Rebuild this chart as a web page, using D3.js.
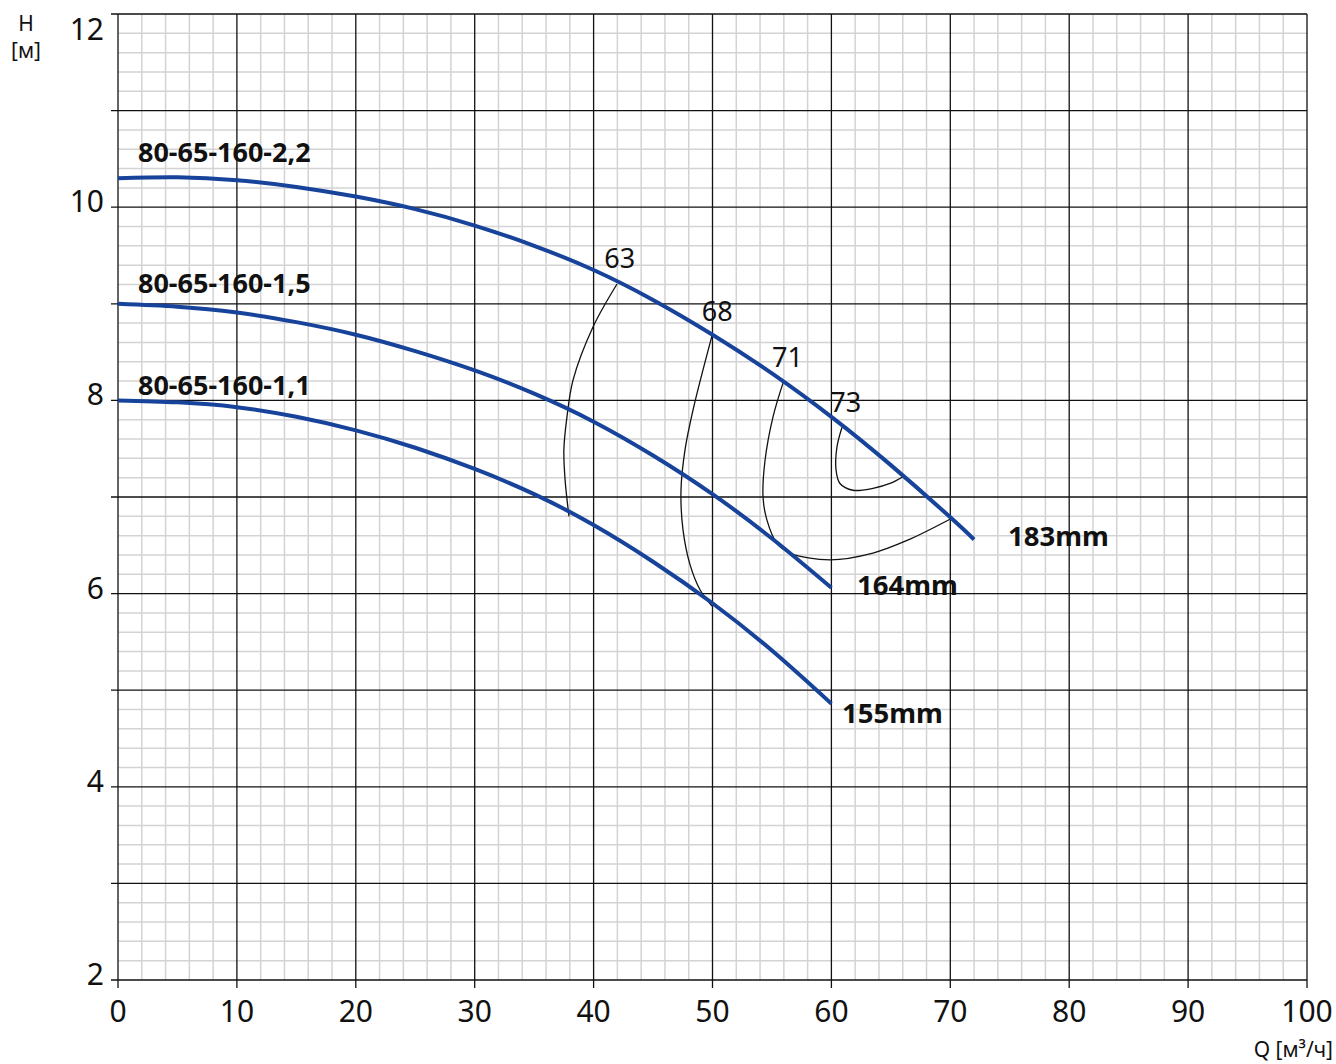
<!DOCTYPE html>
<html><head><meta charset="utf-8">
<script src="https://cdn.jsdelivr.net/npm/d3@7"></script>
<style>
html,body{margin:0;padding:0;background:#fff;}
svg{display:block;font-family:"Noto Sans","Open Sans",sans-serif;}
</style></head>
<body>
<script>
// ---- data ----
const xTicks = [0,10,20,30,40,50,60,70,80,90,100];
const yTicks = [2,4,6,8,10,12];
const curveNames = ["80-65-160-2,2","80-65-160-1,5","80-65-160-1,1"];
const impellers = ["183mm","164mm","155mm"];

const q183 = [0,5,10,15,20,25,30,35,40,45,50,55,60,65,70,72];
const h183 = [10.30,10.31,10.28,10.21,10.11,9.98,9.81,9.60,9.35,9.04,8.68,8.28,7.83,7.33,6.79,6.56];
const q164 = [0,5,10,15,20,25,30,35,40,45,50,55,60];
const h164 = [9.00,8.97,8.91,8.81,8.68,8.51,8.31,8.07,7.78,7.43,7.03,6.57,6.06];
const q155 = [0,5,10,15,20,25,30,35,40,45,50,55,60];
const h155 = [8.00,7.98,7.93,7.83,7.69,7.51,7.29,7.03,6.71,6.33,5.90,5.41,4.86];

const effLabels = ["63","68","71","73"];
const eff63Q = [41.97,39.95,38.27,37.76,37.5,37.6,37.93];
const eff63H = [9.205,8.76,8.21,7.83,7.49,7.18,6.80];
const eff68Q = [49.96,48.36,47.69,47.35,47.52,48.11,48.95,49.96];
const eff68H = [8.67,7.90,7.49,7.07,6.66,6.30,6.04,5.87];
const eff71Q = [56.01,55.09,54.42,54.25,54.58,55.42,56.52,59.88,63.5,66.36,69.97];
const eff71H = [8.21,7.83,7.38,7.00,6.76,6.52,6.42,6.35,6.42,6.55,6.77];
const eff73Q = [60.89,60.47,60.39,60.72,61.82,63.5,64.93,66.02];
const eff73H = [7.72,7.52,7.28,7.14,7.07,7.09,7.14,7.21];

// ---- layout ----
const W = 1336, H = 1064;
const x = d3.scaleLinear().domain([0,100]).range([118,1307]);
const y = d3.scaleLinear().domain([2,12]).range([980,14]);

const svg = d3.select("body").append("svg").attr("width",W).attr("height",H);

// minor grid
const g = svg.append("g");
const minorX = d3.range(2,100,2).filter(v=>v%10!==0);
const minorY = d3.range(2.2,12,0.2).filter(v=>Math.abs(v-Math.round(v))>1e-6);
g.selectAll("line.mx").data(minorX).join("line")
  .attr("x1",d=>x(d)).attr("x2",d=>x(d)).attr("y1",y(12)).attr("y2",y(2))
  .attr("stroke","#d3d3d3").attr("stroke-width",1.5);
g.selectAll("line.my").data(minorY).join("line")
  .attr("x1",x(0)).attr("x2",x(100)).attr("y1",d=>y(d)).attr("y2",d=>y(d))
  .attr("stroke","#d3d3d3").attr("stroke-width",1.5);

// major grid
const majY = d3.range(2,13,1);
g.selectAll("line.Mx").data(xTicks).join("line")
  .attr("x1",d=>x(d)).attr("x2",d=>x(d)).attr("y1",y(12)).attr("y2",y(2)+8)
  .attr("stroke","#111").attr("stroke-width",1.3);
g.selectAll("line.My").data(majY).join("line")
  .attr("x1",x(0)-7).attr("x2",x(100)).attr("y1",d=>y(d)).attr("y2",d=>y(d))
  .attr("stroke","#111").attr("stroke-width",1.3);

// tick labels
svg.append("g").selectAll("text").data(yTicks).join("text")
  .attr("x",104).attr("y",d=>d===12?40:y(d)+5)
  .attr("text-anchor","end").attr("font-size",30).attr("fill","#111")
  .text(d=>d);
svg.append("g").selectAll("text").data(xTicks).join("text")
  .attr("x",d=>x(d)).attr("y",1022)
  .attr("text-anchor","middle").attr("font-size",30).attr("fill","#111")
  .text(d=>d);

// axis titles
svg.append("text").attr("x",26).attr("y",31).attr("text-anchor","middle").attr("font-size",21).attr("fill","#111").text("H");
svg.append("text").attr("x",26).attr("y",58).attr("text-anchor","middle").attr("font-size",21).attr("fill","#111").text("[м]");
svg.append("text").attr("x",1333).attr("y",1057).attr("text-anchor","end").attr("font-size",21).attr("fill","#111").text("Q [м³/ч]");

// efficiency curves
const effLine = d3.line().x(d=>x(d[0])).y(d=>y(d[1])).curve(d3.curveCatmullRom.alpha(0.5));
const effs = [[eff63Q,eff63H],[eff68Q,eff68H],[eff71Q,eff71H],[eff73Q,eff73H]];
effs.forEach(([qs,hs])=>{
  svg.append("path").datum(qs.map((q,i)=>[q,hs[i]]))
    .attr("d",effLine).attr("fill","none").attr("stroke","#111").attr("stroke-width",1.3);
});

// pump curves
const pumpLine = d3.line().x(d=>x(d[0])).y(d=>y(d[1])).curve(d3.curveNatural);
const pumps = [[q183,h183],[q164,h164],[q155,h155]];
pumps.forEach(([qs,hs])=>{
  svg.append("path").datum(qs.map((q,i)=>[q,hs[i]]))
    .attr("d",pumpLine).attr("fill","none").attr("stroke","#17439a").attr("stroke-width",4);
});

// efficiency labels
const effLabelPos = [[42.2,9.37],[50.4,8.82],[56.3,8.35],[61.2,7.88]];
svg.append("g").selectAll("text").data(effLabels).join("text")
  .attr("x",(d,i)=>x(effLabelPos[i][0])).attr("y",(d,i)=>y(effLabelPos[i][1]))
  .attr("text-anchor","middle").attr("font-size",27).attr("fill","#111")
  .text(d=>d);

// model labels
const nameH = [10.47,9.11,8.06];
svg.append("g").selectAll("text").data(curveNames).join("text")
  .attr("x",x(1.68)).attr("y",(d,i)=>y(nameH[i]))
  .attr("font-size",27).attr("font-weight","bold").attr("fill","#111")
  .text(d=>d);

// impeller labels
const impPos = [[74.85,6.49],[62.15,5.99],[60.9,4.66]];
svg.append("g").selectAll("text").data(impellers).join("text")
  .attr("x",(d,i)=>x(impPos[i][0])).attr("y",(d,i)=>y(impPos[i][1]))
  .attr("font-size",27.5).attr("font-weight","bold").attr("fill","#111")
  .text(d=>d);
</script>
</body></html>
